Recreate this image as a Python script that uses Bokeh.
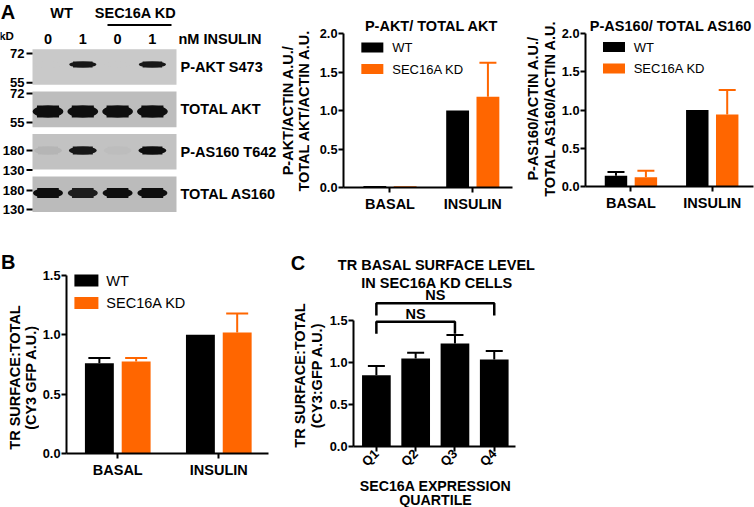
import math
from bokeh.plotting import figure
from bokeh.models import (Range1d, FixedTicker, Label, Whisker, TeeHead,
                          ColumnDataSource, Spacer, NumeralTickFormatter)
from bokeh.layouts import row, column
from bokeh.embed import file_html
from bokeh.resources import INLINE
from bokeh.core.properties import value

# ---------------- data ----------------
lanes_insulin_nM = ["0", "1", "0", "1"]
lane_groups = ["WT", "SEC16A KD"]
blot_rows = ["P-AKT S473", "TOTAL AKT", "P-AS160 T642", "TOTAL AS160"]
band_p_akt = [0.0, 0.95, 0.0, 0.95]
band_total_akt = [1.0, 1.0, 1.0, 1.0]
band_p_as160 = [0.07, 0.95, 0.03, 1.0]
band_total_as160 = [1.0, 0.92, 1.0, 1.0]
mw_labels = ["72", "55", "72", "55", "180", "130", "180", "130"]
mw_rowpos = [-0.32, 0.37, 0.625, 1.31, 1.97, 2.43, 2.91, 3.36]

groups = ["BASAL", "INSULIN"]
series = ["WT", "SEC16A KD"]
akt_wt = [0.02, 1.00]
akt_wt_sd = [0.0, 0.0]
akt_kd = [0.015, 1.18]
akt_kd_sd = [0.0, 0.44]
as160_wt = [0.14, 1.00]
as160_wt_sd = [0.05, 0.0]
as160_kd = [0.12, 0.94]
as160_kd_sd = [0.085, 0.32]
tr_wt = [0.76, 1.00]
tr_wt_sd = [0.045, 0.0]
tr_kd = [0.775, 1.02]
tr_kd_sd = [0.03, 0.16]
quartiles = ["Q1", "Q2", "Q3", "Q4"]
q_mean = [0.85, 1.05, 1.23, 1.04]
q_sd = [0.11, 0.07, 0.10, 0.10]
comparisons = [("Q1", "Q4", "NS"), ("Q1", "Q3", "NS")]
bracket_level = [1.71, 1.49]

# ---------------- geometry / style ----------------
SX = 1.0
SY = 1.0
FONT = "Liberation Sans"
BLACK = "#000000"
ORANGE = "#ff6600"


def fs(px):
    return f"{px * SX:.1f}px"


class Panel:
    """A figure occupying reference box (rx0..rx1, ry0..ry1) whose frame is
    the reference box `frame`, mapped to data ranges xr / yr."""

    def __init__(self, rx0, rx1, ry0, ry1, frame=None, xr=None, yr=None):
        if frame is None:
            frame = (rx0, rx1, ry0, ry1)
        if xr is None:
            xr = (rx0, rx1)
        if yr is None:
            yr = (ry1, ry0)
        self.ox = round(SX * rx0)
        self.oy = round(SY * ry0)
        self.W = round(SX * rx1) - self.ox
        self.H = round(SY * ry1) - self.oy
        fl, fr, ft, fb = frame
        self.L = round(SX * fl) - self.ox
        self.R = round(SX * rx1) - round(SX * fr)
        self.T = round(SY * ft) - self.oy
        self.B = round(SY * ry1) - round(SY * fb)
        self.xr = xr
        self.yr = yr
        self.fw = self.W - self.L - self.R
        self.fh = self.H - self.T - self.B

    def dx(self, rx):
        px = SX * rx - self.ox - self.L
        return self.xr[0] + px / self.fw * (self.xr[1] - self.xr[0])

    def dy(self, ry):
        py = SY * ry - self.oy - self.T
        return self.yr[1] - py / self.fh * (self.yr[1] - self.yr[0])


def chart_panel(rx0, rx1, ry0, ry1, frame, xmap, ymap):
    fl, fr, ft, fb = frame
    p1, u = xmap
    z, v = ymap

    def xv(px):
        return 1 + (px - p1) / u

    def yv(py):
        return (z - py) / v

    pn = Panel(rx0, rx1, ry0, ry1, frame, xr=(xv(fl), xv(fr)),
               yr=(yv(fb), yv(ft)))
    return pn, xv


def make_fig(pn, axes=True):
    kw = {}
    if not axes:
        kw = dict(x_axis_location=None, y_axis_location=None)
    p = figure(width=pn.W, height=pn.H,
               x_range=Range1d(pn.xr[0], pn.xr[1]),
               y_range=Range1d(pn.yr[0], pn.yr[1]),
               output_backend="svg", toolbar_location=None,
               min_border_left=pn.L, min_border_right=pn.R,
               min_border_top=pn.T, min_border_bottom=pn.B,
               frame_align=False, **kw)
    p.outline_line_color = None
    p.grid.visible = False
    p.background_fill_color = "white"
    p.border_fill_color = "white"
    if axes:
        for ax in p.axis:
            ax.axis_line_width = 2
            ax.axis_line_color = BLACK
            ax.major_tick_line_width = 2
            ax.major_tick_line_color = BLACK
            ax.major_tick_out = 5
            ax.major_tick_in = 0
            ax.minor_tick_line_color = None
            ax.major_label_text_font = FONT
            ax.major_label_text_font_style = "bold"
            ax.major_label_text_color = BLACK
            ax.major_label_standoff = 1
        p.yaxis.major_label_text_font_size = fs(12.8)
        p.xaxis.major_label_text_font_size = fs(14.5)
        p.xaxis.major_label_standoff = 3
    return p


def label(p, pn, rx, ry, text, size=14.5, bold=True, align="center",
          baseline="middle", angle=0.0):
    p.add_layout(Label(x=pn.dx(rx), y=pn.dy(ry), text=text,
                       text_align=align, text_baseline=baseline, angle=angle,
                       text_font=FONT, text_font_size=fs(size),
                       text_font_style="bold" if bold else "normal",
                       text_color=BLACK))


def add_whiskers(p, xs, tops, sds, color, cap):
    d = dict(x=[], lower=[], upper=[])
    for x, t, s in zip(xs, tops, sds):
        if s > 0:
            d["x"].append(x)
            d["lower"].append(t)
            d["upper"].append(t + s)
    if not d["x"]:
        return
    src = ColumnDataSource(d)
    p.add_layout(Whisker(source=src, base="x", lower="lower", upper="upper",
                         dimension="height", line_color=color, line_width=2,
                         lower_head=None,
                         upper_head=TeeHead(size=cap, line_color=color,
                                            line_width=2)))


def grouped_bars(pn, wt, wt_sd, kd, kd_sd, yticks, off, bw, cap,
                 xbounds, ybounds):
    p = make_fig(pn)
    idx = list(range(1, len(groups) + 1))
    x_wt = [i - off for i in idx]
    x_kd = [i + off for i in idx]
    p.vbar(x=x_wt, top=wt, width=bw, fill_color=BLACK, line_color=None)
    p.vbar(x=x_kd, top=kd, width=bw, fill_color=ORANGE, line_color=None)
    add_whiskers(p, x_wt, wt, wt_sd, BLACK, cap)
    add_whiskers(p, x_kd, kd, kd_sd, ORANGE, cap)
    p.xaxis.ticker = FixedTicker(ticks=idx)
    p.xaxis.major_label_overrides = {i: g for i, g in zip(idx, groups)}
    p.xaxis.bounds = xbounds
    p.yaxis.ticker = FixedTicker(ticks=yticks)
    p.yaxis.formatter = NumeralTickFormatter(format="0.0")
    p.yaxis.bounds = ybounds
    return p


def legend(p, pn, cx, ys, bw, bh, tx, size):
    p.rect(x=[pn.dx(cx)] * 2, y=[pn.dy(y) for y in ys],
           width=bw * SX, height=bh * SY, width_units="screen",
           height_units="screen", fill_color=[BLACK, ORANGE], line_color=None)
    for name, y in zip(series, ys):
        label(p, pn, tx, y, name, size=size, bold=False, align="left")


def text_fig(pn):
    return make_fig(pn, axes=False)


# ---------------- panel A: blot ----------------
LANE0, LANE_STEP = 47.5, 34.8
ROW0, ROW_STEP = 66.5, 42.4
bp = Panel(0, 277, 0, 250,
           xr=(-LANE0 / LANE_STEP, (277 - LANE0) / LANE_STEP),
           yr=((250 - ROW0) / ROW_STEP, -ROW0 / ROW_STEP))
blot = text_fig(bp)

strip_colors = ["#c9c9c9", "#bdbdbd", "#c2c2c2", "#bbbbbb"]
strip_left = (32 - LANE0) / LANE_STEP
strip_right = (176 - LANE0) / LANE_STEP
nrow = len(blot_rows)
blot.rect(x=[(strip_left + strip_right) / 2] * nrow, y=list(range(nrow)),
          width=strip_right - strip_left, height=0.84,
          fill_color=strip_colors, line_color=None)


def mix(c_hex, t):
    g = int(c_hex[1:3], 16)
    v = int(round(g * (1 - t) + 14 * t))
    return "#%02x%02x%02x" % (v, v, v)


band_table = [band_p_akt, band_total_akt, band_p_as160, band_total_as160]
band_h = [6, 12, 8, 10]
band_w = [0.78, 0.88, 0.80, 0.86]
band_shift = [-0.06, 0.05, -0.03, -0.03]
for j, inten in enumerate(band_table):
    xs = list(range(len(inten)))
    ys = [j + band_shift[j]] * len(inten)
    cols = [mix(strip_colors[j], t) for t in inten]
    h = band_h[j] / ROW_STEP
    blot.rect(x=xs, y=ys, width=band_w[j] * 0.72, height=h,
              fill_color=cols, line_color=None)
    blot.ellipse(x=xs, y=ys, width=band_w[j], height=h,
                 fill_color=cols, line_color=None)

blot.segment(x0=[(26 - LANE0) / LANE_STEP] * len(mw_rowpos), y0=mw_rowpos,
             x1=[strip_left] * len(mw_rowpos), y1=mw_rowpos,
             line_color=BLACK, line_width=2)
blot.text(x=[(24 - LANE0) / LANE_STEP] * len(mw_labels), y=mw_rowpos,
          text=mw_labels, text_font=value(FONT), text_font_style="bold",
          text_font_size=value(fs(13)), text_align="right",
          text_baseline="middle", text_color=BLACK)
blot.text(x=[(180 - LANE0) / LANE_STEP] * nrow, y=list(range(nrow)),
          text=blot_rows, text_font=value(FONT), text_font_style="bold",
          text_font_size=value(fs(14.5)), text_align="left",
          text_baseline="middle", text_color=BLACK)
blot.text(x=list(range(len(lanes_insulin_nM))),
          y=[bp.dy(38)] * len(lanes_insulin_nM), text=lanes_insulin_nM,
          text_font=value(FONT), text_font_style="bold",
          text_font_size=value(fs(14.5)), text_align="center",
          text_baseline="middle", text_color=BLACK)
label(blot, bp, 178, 38, "nM INSULIN", align="left")
label(blot, bp, 6, 35, "kD", size=11.5)
label(blot, bp, 7.5, 11.2, "A", size=20)
label(blot, bp, 61, 12.5, lane_groups[0])
label(blot, bp, 135, 12.5, lane_groups[1])
blot.segment(x0=[bp.dx(107)], y0=[bp.dy(24.5)], x1=[bp.dx(171)],
             y1=[bp.dy(24.5)], line_color=BLACK, line_width=2)

ROT = math.pi / 2

# ---------------- panel A: P-AKT / TOTAL AKT ----------------
pa2l = Panel(277, 316, 0, 250)
a2l = text_fig(pa2l)
label(a2l, pa2l, 287, 110, "P-AKT/ACTIN A.U./", angle=ROT)
label(a2l, pa2l, 303, 110, "TOTAL AKT/ACTIN A.U.", angle=ROT)

pa2, xv2 = chart_panel(316, 520, 0, 250, (342, 520, 0, 187),
                       (388.75, 83.25), (187, 77.0))
a2 = grouped_bars(pa2, akt_wt, akt_wt_sd, akt_kd, akt_kd_sd,
                  [0, 0.5, 1.0, 1.5, 2.0], 0.183, 0.276, 17,
                  (xv2(342), xv2(512)), (0, 2.0))
label(a2, pa2, 430.5, 25, "P-AKT/ TOTAL AKT")
legend(a2, pa2, 371, [47, 68.5], 22, 10, 391, 13)

# ---------------- panel A: P-AS160 / TOTAL AS160 ----------------
pa3l = Panel(520, 558, 0, 250)
a3l = text_fig(pa3l)
label(a3l, pa3l, 532, 108, "P-AS160/ACTIN A.U./", angle=ROT)
label(a3l, pa3l, 549.5, 108, "TOTAL AS160/ACTIN A.U.", angle=ROT)

pa3, xv3 = chart_panel(558, 754, 0, 250, (582, 754, 0, 186),
                       (628.25, 82.75), (186, 76.5))
a3 = grouped_bars(pa3, as160_wt, as160_wt_sd, as160_kd, as160_kd_sd,
                  [0, 0.5, 1.0, 1.5, 2.0], 0.184, 0.276, 17,
                  (xv3(582), xv3(753)), (0, 2.0))
label(a3, pa3, 669, 25, "P-AS160/ TOTAL AS160")
legend(a3, pa3, 611, [46.5, 68], 22, 10, 631, 13)

# ---------------- panel B ----------------
pbl = Panel(0, 39, 250, 507)
bl = text_fig(pbl)
label(bl, pbl, 7.8, 261.2, "B", size=20)
label(bl, pbl, 14, 377, "TR SURFACE:TOTAL", angle=ROT)
label(bl, pbl, 30.5, 377, "(CY3 GFP A.U.)", angle=ROT)

pb, xvb = chart_panel(39, 284, 250, 507, (65, 284, 250, 453),
                      (116.5, 101.5), (453, 178 / 1.5))
b = grouped_bars(pb, tr_wt, tr_wt_sd, tr_kd, tr_kd_sd,
                 [0, 0.5, 1.0, 1.5], 0.182, 0.286, 22,
                 (xvb(65), xvb(268)), (0, 1.5))
legend(b, pb, 85, [280, 302.5], 24, 12, 105, 14.5)

# ---------------- panel C ----------------
pct = Panel(284, 540, 250, 274)
ct = text_fig(pct)
label(ct, pct, 297.5, 262.5, "C", size=20)
label(ct, pct, 436, 264, "TR BASAL SURFACE LEVEL")

pcl = Panel(284, 326, 274, 507)
cl = text_fig(pcl)
label(cl, pcl, 299, 375, "TR SURFACE:TOTAL", angle=ROT)
label(cl, pcl, 316, 375, "(CY3:GFP A.U.)", angle=ROT)

pc, xvc = chart_panel(326, 540, 274, 477, (352, 540, 274, 452),
                      (375, 39.5), (452, 130 / 1.5))
c = make_fig(pc)
qidx = list(range(1, len(quartiles) + 1))
c.vbar(x=qidx, top=q_mean, width=0.73, fill_color=BLACK, line_color=None)
add_whiskers(c, qidx, q_mean, q_sd, BLACK, 17)
c.xaxis.ticker = FixedTicker(ticks=qidx)
c.xaxis.major_label_overrides = {i: q for i, q in zip(qidx, quartiles)}
c.xaxis.major_label_orientation = math.pi / 4
c.xaxis.major_label_text_font_size = fs(13)
c.xaxis.major_label_standoff = 0
c.xaxis.bounds = (xvc(352), xvc(515))
c.yaxis.ticker = FixedTicker(ticks=[0, 0.5, 1.0, 1.5])
c.yaxis.formatter = NumeralTickFormatter(format="0.0")
c.yaxis.bounds = (0, 1.5)
label(c, pc, 436, 282.5, "IN SEC16A KD CELLS")

qpos = {q: i for q, i in zip(quartiles, qidx)}
drop = 0.145
bx, by, tx, ty, tt = [], [], [], [], []
for (qa, qb, txt), h in zip(comparisons, bracket_level):
    a_, b_ = qpos[qa], qpos[qb]
    bx.append([a_, a_, b_, b_])
    by.append([h - drop, h, h, h - drop])
    tx.append((a_ + b_) / 2)
    ty.append(h)
    tt.append(txt)
c.multi_line(xs=bx, ys=by, line_color=BLACK, line_width=2.5)
c.text(x=tx, y=ty, text=tt, text_font=value(FONT), text_font_style="bold",
       text_font_size=value(fs(14.5)), text_align="center",
       text_baseline="bottom", text_color=BLACK)

pcx = Panel(326, 540, 477, 507)
cx = text_fig(pcx)
label(cx, pcx, 435, 485.3, "SEC16A EXPRESSION", size=14.2)
label(cx, pcx, 435, 499, "QUARTILE", size=14.2)

cblock = column(ct, row(cl, column(c, cx)))

# ---------------- layout ----------------
top = row(blot, a2l, a2, a3l, a3)
bottom = row(bl, b, cblock,
             Spacer(width=754 - pbl.W - pb.W - pct.W, height=pb.H))
layout = column(top, bottom)

open("out.html", "w").write(file_html(layout, INLINE))
